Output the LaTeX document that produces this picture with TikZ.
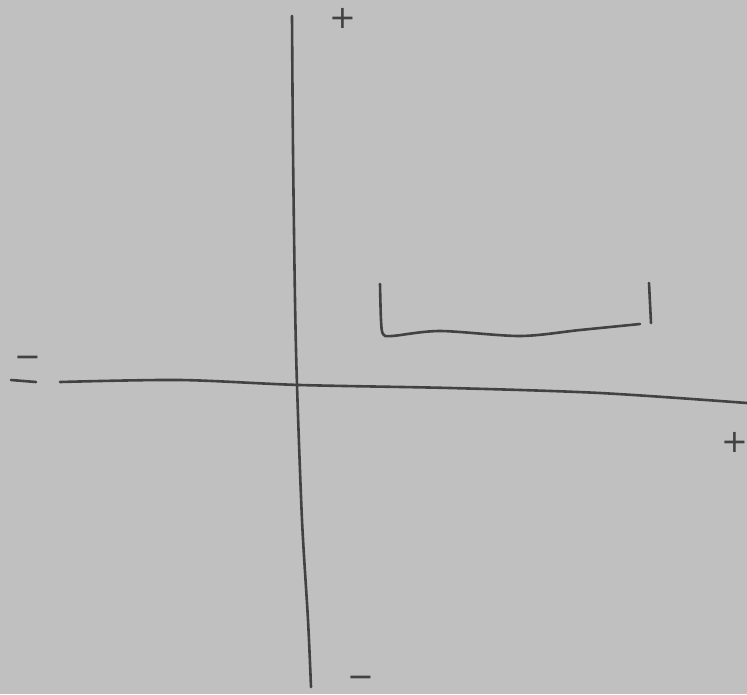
\documentclass[tikz,border=0pt]{standalone}
\usepackage{fontspec}
\usepackage{tikz}
\usetikzlibrary{positioning}
\newfontfamily\signfont{DejaVu Sans}
\definecolor{paper}{RGB}{192,192,192}
\definecolor{pen}{RGB}{66,66,66}

\begin{document}
\begin{tikzpicture}[
    x=1pt, y=-1pt,
    stroke/.style={draw=pen, line width=2.6pt, line cap=round, line join=round},
    sign/.style={text=pen, font=\signfont\fontsize{32}{32}\selectfont, inner sep=0pt},
  ]
    % ---------- paper ----------
    \fill[paper] (0,0) rectangle (747,694);
    \useasboundingbox (0,0) rectangle (747,694);

    % ---------- axes ----------
    \coordinate (ytop) at (292,16);
    \coordinate (ybot) at (311,687);
    \coordinate (xleft) at (60,382);
    \coordinate (xright) at (747,403);
    \draw[stroke] plot[smooth] coordinates {(ytop) (293,150) (295,300) (297,385) (302,520) (308,620) (ybot)};
    \draw[stroke] plot[smooth] coordinates {(xleft) (180,380) (300,385) (450,388) (600,393) (xright)};
    \draw[stroke] (11,380) -- (36,382);

    % ---------- signs ----------
    \node[sign] (ypos) at (343,18) {+};
    \node[sign] (yneg) at (361,682) {−};
    \node[sign] (xneg) at (28,362) {−};
    \node[sign] (xpos) at (735,442) {+};

    % ---------- bracket ----------
    \coordinate (bl) at (380,284);
    \coordinate (br) at (640,324);
    \draw[stroke] plot[smooth] coordinates {(bl) (381,320) (383,334) (392,336) (440,331) (520,336) (580,330) (br)};
    \draw[stroke] (649,283) -- (651,323);
\end{tikzpicture}
\end{document}
